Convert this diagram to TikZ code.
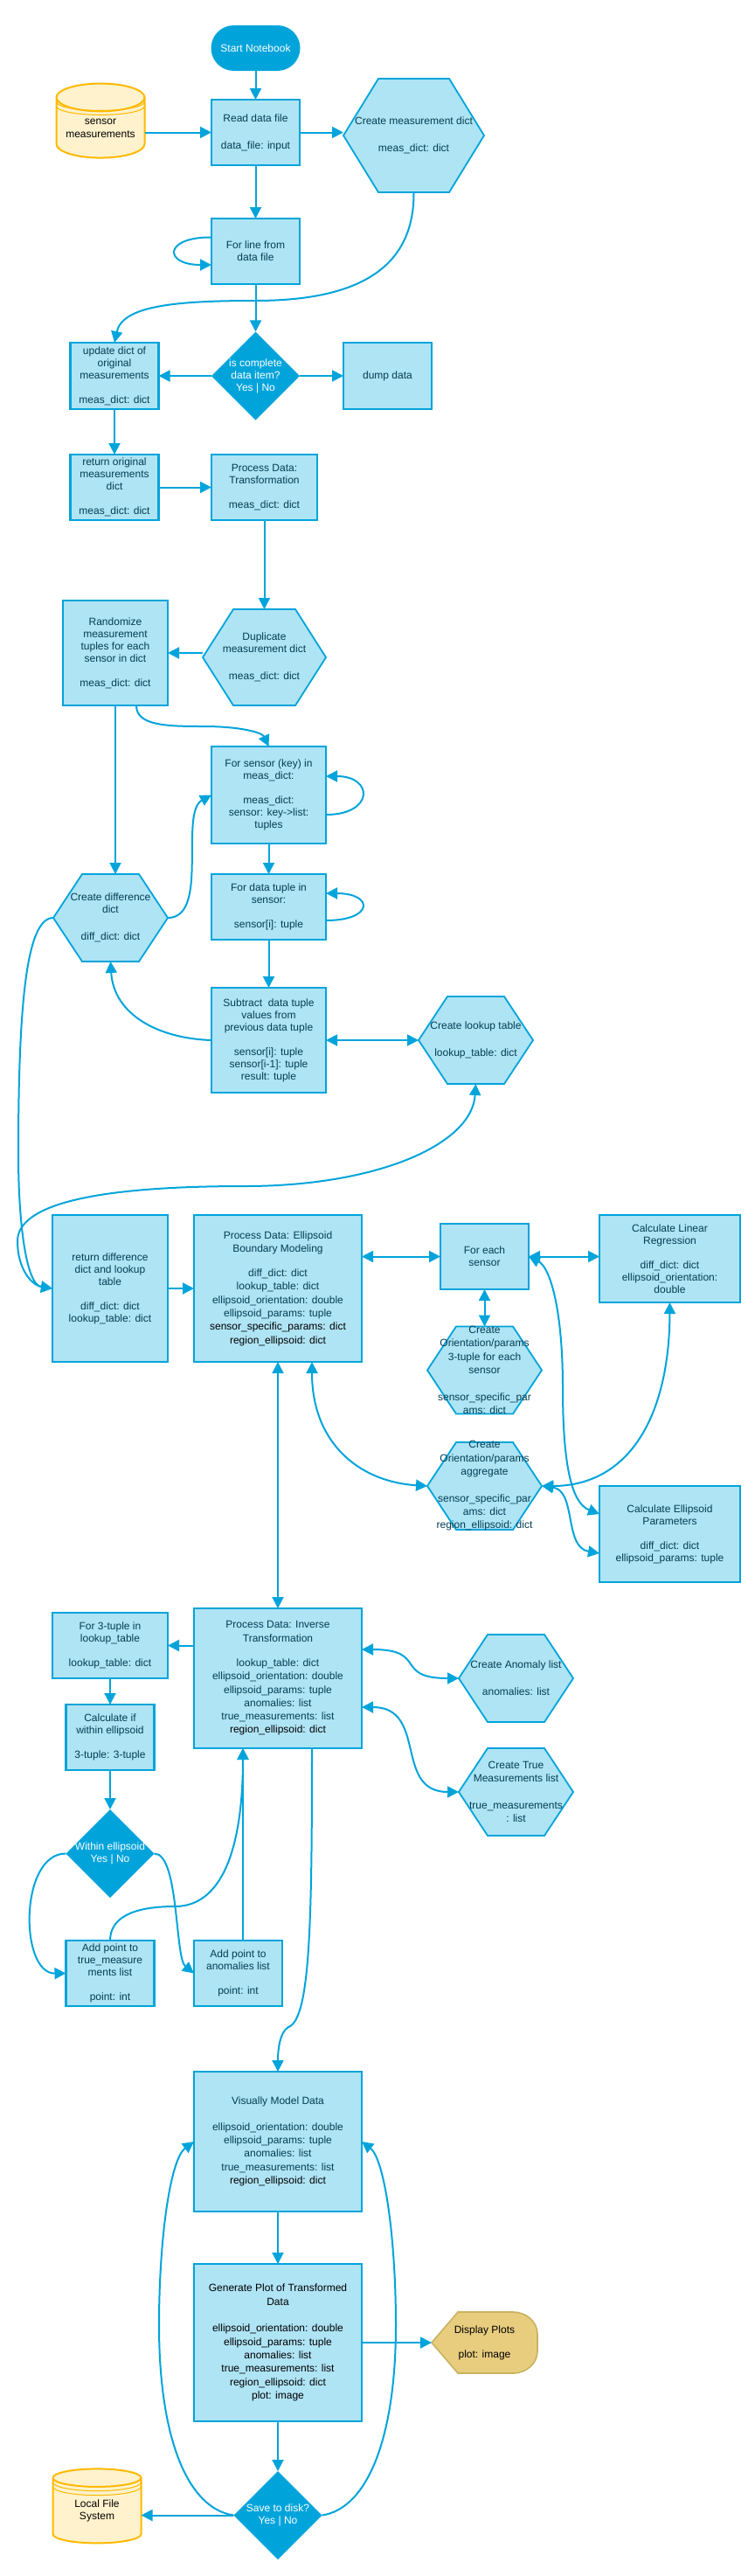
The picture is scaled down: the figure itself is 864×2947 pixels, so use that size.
\documentclass[tikz,border=0pt]{standalone}
\usepackage{fontspec}
\setmainfont{Liberation Sans}
\usetikzlibrary{shapes,shapes.geometric,arrows.meta,positioning,backgrounds}

\definecolor{flowline}{HTML}{00A4DB}
\definecolor{boxfill}{HTML}{AFE4F5}
\definecolor{boxtext}{HTML}{023E52}
\definecolor{storefill}{HTML}{FFF2CC}
\definecolor{storeline}{HTML}{FFB900}
\definecolor{showfill}{HTML}{E8CD7F}
\definecolor{showline}{HTML}{C9B25F}

\tikzset{
  basenode/.style={outer sep=0pt,inner sep=0pt,align=center,font=\fontsize{12}{14}\selectfont},
  procbox/.style={basenode,rectangle,draw=flowline,fill=boxfill,text=boxtext,line width=2.5pt,
    minimum width=101pt,minimum height=75pt},
  boxsize/.style 2 args={minimum width=#1pt,minimum height=#2pt},
  roomy/.style={font=\fontsize{12}{15.3}\selectfont},
  hexbox/.style={basenode,rectangle,text=boxtext,minimum width=131pt,minimum height=100pt},
  hexline/.style={draw=flowline,fill=boxfill,line width=1.8pt},
  decision/.style={basenode,diamond,aspect=1,fill=flowline,text=white,inner sep=-6pt,
    minimum width=101pt,minimum height=101pt},
  terminal/.style={basenode,rectangle,rounded corners=26pt,fill=flowline,text=white,
    minimum width=102pt,minimum height=52pt},
  store/.style={basenode,cylinder,shape border rotate=90,shape aspect=0.4,draw=storeline,fill=storefill,
    text=black,line width=2pt,minimum width=101pt,minimum height=85pt},
  storerim/.style={draw=storeline,line width=1pt},
  link/.style={color=flowline,line width=2pt},
  >={Triangle[length=13pt,width=13pt]}
}

\newcommand{\storerims}[1]{%
  \draw[storerim] ([yshift=-5pt]#1.before top) arc[start angle=180,end angle=360,x radius=50.5pt,y radius=10pt];
  \draw[storerim] ([yshift=-10pt]#1.before top) arc[start angle=180,end angle=360,x radius=50.5pt,y radius=10pt];
}
\newcommand{\hexoutline}[2]{%
  \path[hexline] (#1.west) -- ([xshift=#2pt]#1.north west) -- ([xshift=-#2pt]#1.north east) -- (#1.east)
    -- ([xshift=-#2pt]#1.south east) -- ([xshift=#2pt]#1.south west) -- cycle;
}

\begin{document}
\begin{tikzpicture}[%
x=1pt,
y=-1pt,
on grid,
auto
]
\useasboundingbox (0,0) rectangle (864,2947);

% reading the file
\node[terminal] (start) at (292.5,55) {Start Notebook};
\node[procbox] (read) [below=96.5pt of start] {Read data file\\[17pt]data\_file: input};
\node[store,roomy] (sensor) [left=177.5pt of read,yshift=5pt] {sensor\\measurements};
\node[hexbox,boxsize={161}{130}] (meashex) [right=181pt of read,yshift=-3.5pt] {Create measurement dict\\[17pt]meas\_dict: dict};
\node[procbox] (line) [below=136pt of read] {For line from\\data file};
\node[decision] (complete) [below=142.5pt of line] {is complete\\data item?\\Yes | No};
\node[procbox,boxsize={101}{76}] (update) [left=161.5pt of complete] {update dict of\\original\\measurements\\[14pt]meas\_dict: dict};
\node[procbox,boxsize={101}{76}] (dump) [right=151pt of complete] {dump data};
\node[procbox] (retorig) [below=127.5pt of update] {return original\\measurements\\dict\\[14pt]meas\_dict: dict};
\node[procbox,boxsize={121}{75}] (transf) [right=171.5pt of retorig] {Process Data:\\Transformation\\[14pt]meas\_dict: dict};

% difference dict and lookup table
\node[hexbox,boxsize={141}{110}] (dup) [below=194.5pt of transf] {Duplicate\\measurement dict\\[17pt]meas\_dict: dict};
\node[procbox,boxsize={120}{120}] (rand) [left=170.5pt of dup,yshift=5pt] {Randomize\\measurement\\tuples for each\\sensor in dict\\[14pt]meas\_dict: dict};
\node[procbox,boxsize={131}{111}] (forsensor) [below=157.5pt of dup,xshift=5pt] {For sensor (key) in\\meas\_dict:\\[14pt]meas\_dict:\\sensor: key-\textgreater list:\\tuples};
\node[procbox,boxsize={131}{75}] (fortuple) [below=128pt of forsensor] {For data tuple in\\sensor:\\[14pt]sensor[i]: tuple};
\node[procbox,boxsize={131}{120}] (subtract) [below=152.5pt of fortuple] {Subtract\ \ data tuple\\values from\\previous data tuple\\[14pt]sensor[i]: tuple\\sensor[i-1]: tuple\\result: tuple};
\node[hexbox] (diff) [left=181pt of fortuple,yshift=-12.5pt] {Create difference\\dict\\[17pt]diff\_dict: dict};
\node[hexbox] (lookup) [right=237pt of subtract] {Create lookup table\\[17pt]lookup\_table: dict};

% ellipsoid modeling
\node[procbox,boxsize={192}{168},roomy] (ellipsoid) [below=284pt of subtract,xshift=10.5pt] {Process Data: Ellipsoid\\Boundary Modeling\\[13pt]diff\_dict: dict\\lookup\_table: dict\\ellipsoid\_orientation: double\\ellipsoid\_params: tuple\\\textcolor{black}{sensor\_specific\_params: dict}\\\textcolor{black}{region\_ellipsoid: dict}};
\node[procbox,boxsize={132}{168}] (retdiff) [left=192pt of ellipsoid] {return difference\\dict and lookup\\table\\[14pt]diff\_dict: dict\\lookup\_table: dict};
\node[procbox] (foreach) [right=236.5pt of ellipsoid,yshift=36.5pt] {For each\\sensor};
\node[procbox,boxsize={161}{100}] (linear) [right=212pt of foreach,yshift=-2.5pt] {Calculate Linear\\Regression\\[14pt]diff\_dict: dict\\ellipsoid\_orientation:\\double};
\node[hexbox,inner ysep=-8pt,roomy] (orient) [below=130pt of foreach] {Create\\Orientation/params\\3-tuple for each\\sensor\\[15.5pt]sensor\_specific\_par\\ams: dict};
\node[hexbox,inner ysep=-8pt,roomy] (aggr) [below=132.5pt of orient] {Create\\Orientation/params\\aggregate\\[15.5pt]sensor\_specific\_par\\ams: dict\\region\_ellipsoid: dict};
\node[procbox,boxsize={161}{110}] (params) [right=212pt of aggr,yshift=-55pt] {Calculate Ellipsoid\\Parameters\\[14pt]diff\_dict: dict\\ellipsoid\_params: tuple};

% inverse transformation
\node[procbox,boxsize={192}{160},roomy] (inverse) [below=446pt of ellipsoid] {Process Data: Inverse\\Transformation\\[13pt]lookup\_table: dict\\ellipsoid\_orientation: double\\ellipsoid\_params: tuple\\anomalies: list\\true\_measurements: list\\\textcolor{black}{region\_ellipsoid: dict}};
\node[procbox,boxsize={132}{75}] (forthree) [left=192pt of inverse,yshift=37.5pt] {For 3-tuple in\\lookup\_table\\[14pt]lookup\_table: dict};
\node[procbox] (within) [below=105pt of forthree] {Calculate if\\within ellipsoid\\[14pt]3-tuple: 3-tuple};
\node[decision] (inside) [below=133pt of within] {Within ellipsoid\\Yes | No};
\node[procbox] (addtrue) [below=137pt of inside] {Add point to\\true\_measure\\ments list\\[14pt]point: int};
\node[procbox] (addanom) [right=146.5pt of addtrue] {Add point to\\anomalies list\\[14pt]point: int};
\node[hexbox,roomy] (anomhex) [right=272.5pt of inverse] {Create Anomaly list\\[15.5pt]anomalies: list};
\node[hexbox,roomy] (truehex) [below=130pt of anomhex] {Create True\\Measurements list\\[15.5pt]true\_measurements\\: list};

% plots and saving
\node[procbox,boxsize={192}{160},roomy] (visual) [below=530pt of inverse] {Visually Model Data\\[14pt]ellipsoid\_orientation: double\\ellipsoid\_params: tuple\\anomalies: list\\true\_measurements: list\\\textcolor{black}{region\_ellipsoid: dict}};
\node[procbox,boxsize={192}{180},roomy,text=black] (generate) [below=230pt of visual] {Generate Plot of Transformed\\Data\\[15.5pt]ellipsoid\_orientation: double\\ellipsoid\_params: tuple\\anomalies: list\\true\_measurements: list\\region\_ellipsoid: dict\\plot: image};
\node[basenode,minimum width=121pt,minimum height=70pt,text=black] (plots) [right=236.5pt of generate] {Display Plots\\[14pt]plot: image};
\node[decision] (save) [below=197.5pt of generate] {Save to disk?\\Yes | No};
\node[store,text=black] (localfs) [left=207pt of save,yshift=5pt] {Local File\\System};

\storerims{sensor}
\storerims{localfs}

\begin{pgfonlayer}{background}
\hexoutline{meashex}{40}
\hexoutline{dup}{35}
\hexoutline{diff}{33}
\hexoutline{lookup}{33}
\hexoutline{orient}{33}
\hexoutline{aggr}{33}
\hexoutline{anomhex}{33}
\hexoutline{truehex}{33}
\path[draw=showline,fill=showfill,line width=1.6pt] (plots.west) -- ([xshift=30pt]plots.north west)
  -- ([xshift=-28pt]plots.north east) arc[start angle=90,end angle=0,x radius=28pt,y radius=25pt]
  -- ([yshift=25pt]plots.south east) arc[start angle=0,end angle=-90,x radius=28pt,y radius=25pt]
  -- ([xshift=30pt]plots.south west) -- cycle;
\end{pgfonlayer}

% straight links
\path[->,link] (start) edge (read);
\path[->,link] (sensor.east |- read) edge (read);
\path[->,link] (read.east) edge (read.east -| meashex.west);
\path[->,link] (read) edge (line);
\path[->,link] (line) edge (complete);
\path[->,link] (complete) edge (update);
\path[->,link] (complete) edge (dump);
\path[->,link] (update) edge (retorig);
\path[->,link] (retorig) edge (transf);
\path[->,link] (transf.south) edge (dup.north);
\path[->,link] (dup.west |- rand) edge (rand);
\path[->,link] (rand.south) edge (rand.south |- diff.north);
\path[->,link] (forsensor) edge (fortuple);
\path[->,link] (fortuple) edge (subtract);
\path[<->,link] (subtract) edge (lookup);
\path[->,link] (retdiff.east) edge (ellipsoid.west |- retdiff);
\path[<->,link] (ellipsoid.east |- foreach) edge (foreach);
\path[<->,link] (foreach.east) edge (foreach.east -| linear.west);
\path[<->,link] (foreach) edge (orient);
\path[<->,link] (ellipsoid) edge (inverse);
\path[->,link] (inverse.west |- forthree) edge (forthree);
\path[->,link] (forthree) edge (within);
\path[->,link] (within) edge (inside);
\path[->,link] (visual) edge (generate);
\path[->,link] (generate) edge (save);
\path[->,link] (generate.east) edge (plots.west);
\path[->,link] (save) edge (localfs.east |- save);

% bent links
\draw[->,link] (meashex.south) .. controls (474,300) and (420,344) .. (292,344) .. controls (200,344) and (140,350) .. (update.north);
\draw[->,link] ([yshift=-21.5pt]line.north west) .. controls (187,271) and (187,303) .. ([yshift=22pt]line.south west);
\draw[->,link] ([xshift=24pt]rand.south) .. controls (156,830) and (190,831) .. (233,831) .. controls (275,831) and (300,838) .. (forsensor.north);
\draw[->,link] (diff.east) .. controls (240,1050) and (205,930) .. (forsensor.west);
\draw[->,link] ([yshift=-22.5pt]forsensor.east) .. controls (428,932) and (428,888) .. ([yshift=21.5pt]forsensor.east);
\draw[->,link] ([yshift=-15.5pt]fortuple.east) .. controls (428,1053) and (428,1022) .. ([yshift=15.5pt]fortuple.east);
\draw[->,link] (subtract.west) .. controls (180,1188) and (130,1160) .. (diff.south);
\draw[->,link] (diff.west) .. controls (30,1050) and (21,1150) .. (21,1320) .. controls (21,1400) and (30,1470) .. (retdiff.west);
\draw[<->,link] (lookup.south) .. controls (540,1310) and (430,1357) .. (280,1357) .. controls (100,1357) and (20,1380) .. (20,1420) .. controls (20,1450) and (35,1470) .. (retdiff.west);
\draw[<->,link] (foreach.east) .. controls (630,1450) and (644,1500) .. (644,1587) .. controls (644,1680) and (655,1720) .. ([yshift=23pt]params.west);
\draw[<->,link] (linear.south) .. controls (766,1620) and (720,1700) .. (aggr.east);
\draw[<->,link] (aggr.east) .. controls (660,1705) and (645,1770) .. ([yshift=-22pt]params.west);
\draw[<->,link] ([xshift=39pt]ellipsoid.south) .. controls (357,1650) and (410,1695) .. (aggr.west);
\draw[<->,link] ([yshift=33pt]inverse.east) .. controls (490,1887) and (450,1920) .. (anomhex.west);
\draw[<->,link] ([yshift=-33pt]inverse.east) .. controls (490,1953) and (450,2050) .. (truehex.west);
\draw[->,link] (inside.west) .. controls (22,2120) and (22,2258) .. (addtrue.west);
\draw[->,link] (inside.east) .. controls (205,2120) and (200,2240) .. (addanom.west);
\draw[->,link] (addtrue.north) .. controls (126,2195) and (150,2181) .. (200,2181) .. controls (260,2181) and (278,2100) .. ([xshift=-40pt]inverse.south);
\draw[->,link] ([xshift=5.5pt]addanom.north) -- ([xshift=-40pt]inverse.south);
\draw[->,link] ([xshift=39pt]inverse.south) .. controls (357,2200) and (355,2310) .. (330,2319) .. controls (320,2325) and (318,2345) .. (visual.north);
\draw[->,link] (save.west) .. controls (215,2870) and (182,2790) .. (182,2660) .. controls (182,2560) and (195,2470) .. (visual.west);
\draw[->,link] (save.east) .. controls (420,2870) and (453,2790) .. (453,2660) .. controls (453,2560) and (440,2470) .. (visual.east);

\end{tikzpicture}
\end{document}
